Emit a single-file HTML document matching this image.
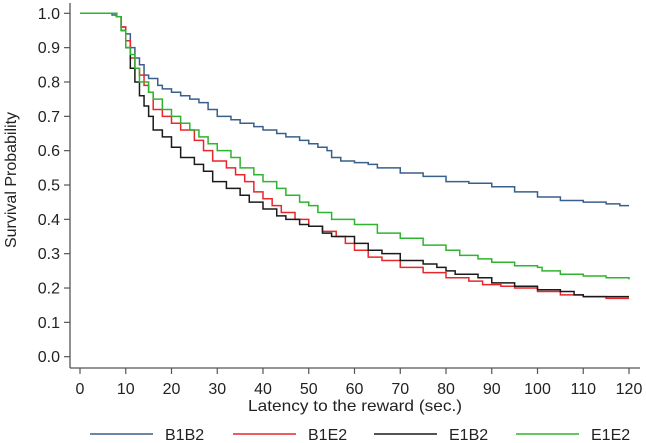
<!DOCTYPE html>
<html><head><meta charset="utf-8"><style>
html,body{margin:0;padding:0;background:#fff;}
svg{display:block;font-family:"Liberation Sans",Arial,sans-serif;}
</style></head><body>
<svg id="chart" width="646" height="443">
<g id="axes"></g><g id="series"></g><g id="legend"></g>
</svg>
<script>
const xTicks=[0,10,20,30,40,50,60,70,80,90,100,110,120];
const yTicks=[0,0.1,0.2,0.3,0.4,0.5,0.6,0.7,0.8,0.9,1.0];
const seriesNames=["B1B2","B1E2","E1B2","E1E2"];
const seriesColors=["#3a5f8a","#e8262b","#1a1a1a","#2eb42e"];
const b1b2T=[0,7,8,9,10,11,12,13,14,15,17,18,20,22,24,26,28,30,33,35,38,40,43,45,48,50,52,54,55,57,60,63,65,70,75,80,85,90,95,100,105,110,115,118,120];
const b1b2V=[1,0.995,0.99,0.96,0.94,0.9,0.87,0.85,0.82,0.81,0.79,0.78,0.77,0.76,0.75,0.74,0.72,0.70,0.69,0.68,0.67,0.66,0.65,0.64,0.63,0.62,0.61,0.60,0.58,0.57,0.565,0.56,0.55,0.535,0.525,0.51,0.505,0.495,0.48,0.465,0.455,0.45,0.445,0.44,0.44];
const b1e2T=[0,8,9,10,11,12,13,14,15,16,18,20,22,25,27,29,32,34,36,38,40,42,44,47,50,53,56,58,60,63,66,70,75,80,85,88,92,95,100,105,110,115,120];
const b1e2V=[1,0.99,0.96,0.92,0.87,0.84,0.82,0.79,0.77,0.72,0.70,0.68,0.66,0.63,0.60,0.57,0.55,0.53,0.51,0.48,0.46,0.44,0.42,0.40,0.38,0.365,0.35,0.33,0.31,0.29,0.28,0.26,0.245,0.23,0.22,0.21,0.205,0.20,0.19,0.18,0.175,0.17,0.17];
const e1b2T=[0,8,9,10,11,12,13,14,15,16,18,20,22,25,27,29,32,35,37,40,43,45,48,50,53,55,60,63,66,70,75,78,80,82,87,90,95,100,105,108,110,120];
const e1b2V=[1,0.99,0.95,0.90,0.84,0.80,0.76,0.73,0.70,0.66,0.64,0.61,0.58,0.56,0.54,0.51,0.49,0.47,0.45,0.43,0.41,0.40,0.385,0.38,0.36,0.35,0.33,0.31,0.30,0.28,0.27,0.26,0.25,0.24,0.23,0.215,0.205,0.195,0.19,0.18,0.175,0.175];
const e1e2T=[0,8,9,10,11,12,13,15,16,18,20,22,24,26,28,30,33,35,38,40,43,45,48,50,52,55,60,65,70,75,80,83,87,90,95,100,101,105,110,115,120];
const e1e2V=[1,0.99,0.95,0.90,0.88,0.84,0.80,0.77,0.75,0.72,0.70,0.68,0.66,0.64,0.62,0.60,0.58,0.55,0.53,0.51,0.49,0.47,0.45,0.44,0.42,0.40,0.385,0.36,0.345,0.325,0.31,0.295,0.285,0.275,0.265,0.26,0.25,0.24,0.235,0.23,0.225];
const allT=[b1b2T,b1e2T,e1b2T,e1e2T], allV=[b1b2V,b1e2V,e1b2V,e1e2V];

const NS="http://www.w3.org/2000/svg";
const X0=80,X1=629,Y0=356.7,Y1=13.3;
const xs=t=>X0+(t-0)/120*(X1-X0);
const ys=v=>Y0-(v-0)/1*(Y0-Y1);
function mk(tag,attrs,parent,text){const e=document.createElementNS(NS,tag);for(const k in attrs)e.setAttribute(k,attrs[k]);if(text!==undefined)e.textContent=text;parent.appendChild(e);return e;}
const axes=document.getElementById('axes'),ser=document.getElementById('series'),leg=document.getElementById('legend');

let el=mk('line',{x1:70,y1:3,x2:70,y2:368,stroke:'#555','stroke-width':1.3},axes);


el=mk('line',{x1:70,y1:368,x2:640,y2:368,stroke:'#555','stroke-width':1.3},axes);


yTicks.forEach(v=>{
  const y=ys(v);
  let t=mk('line',{x1:64,y1:y,x2:70,y2:y,stroke:'#555','stroke-width':1.2},axes);
  
  
  let l=mk('text',{x:60,y:y+5.5,'text-anchor':'end','font-size':16,fill:'#222'},axes,v.toFixed(1));
  
  
});
xTicks.forEach(v=>{
  const x=xs(v);
  let t=mk('line',{x1:x,y1:368,x2:x,y2:374,stroke:'#555','stroke-width':1.2},axes);
  
  
  let l=mk('text',{x:x,y:394,'text-anchor':'middle','font-size':16,fill:'#222'},axes,String(v));
  
  
});
el=mk('text',{x:248,y:411,'font-size':16,fill:'#222',textLength:214,lengthAdjust:'spacingAndGlyphs'},axes,'Latency to the reward (sec.)');


el=mk('text',{x:0,y:0,'text-anchor':'middle','font-size':16,fill:'#222',transform:'translate(16,180) rotate(-90)'},axes,'Survival Probability');



allT.forEach((T,i)=>{
  let d='M'+xs(T[0])+','+ys(allV[i][0]);
  for(let k=1;k<T.length;k++){d+=' H'+xs(T[k])+' V'+ys(allV[i][k]);}
  let p=mk('path',{d:d,fill:'none',stroke:seriesColors[i],'stroke-width':1.5},ser);
  
  
});
const legX=[90,233,374,516];
seriesNames.forEach((n,i)=>{
  const g=mk('g',{},leg);
  
  
  mk('line',{x1:legX[i],y1:434,x2:legX[i]+63,y2:434,stroke:seriesColors[i],'stroke-width':1.5},g);
  mk('text',{x:legX[i]+75,y:440,'font-size':16,fill:'#222'},g,n);
});
</script>
</body></html>
